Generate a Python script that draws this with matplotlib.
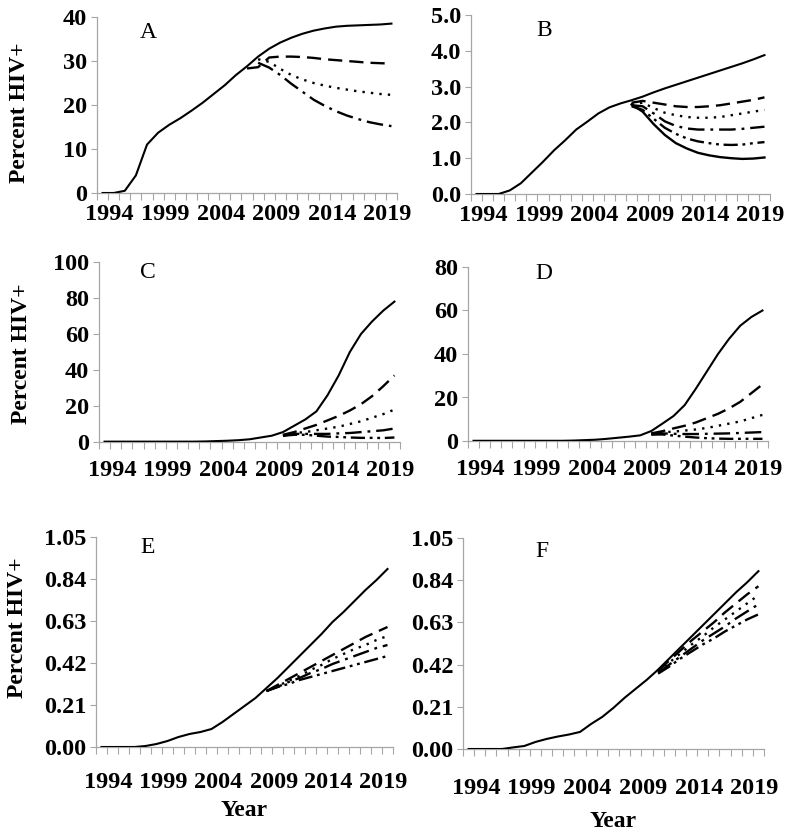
import matplotlib
matplotlib.use("Agg")
import matplotlib.pyplot as plt
from matplotlib.ticker import FixedLocator, NullFormatter

# ---------------- data ----------------
years = list(range(1993, 2020))
tick_years = [1994, 1999, 2004, 2009, 2014, 2019]

# Panel A
A_base = [0, 0, 0.5, 4, 11, 13.7, 15.5, 17, 18.7, 20.5, 22.5, 24.5, 26.8, 28.8,
          31, 32.8, 34.2, 35.3, 36.2, 36.9, 37.4, 37.8, 38, 38.1, 38.2, 38.3, 38.5]
A_dash_start = 2006
A_dash = [28.3, 28.6, 30.8, 31.0, 31.0, 30.9, 30.7, 30.4, 30.2, 30.0, 29.8, 29.6, 29.5, 29.4]
A_dot_start = 2007
A_dot = [30.4, 29.8, 28.2, 26.8, 25.8, 25.0, 24.4, 23.9, 23.5, 23.1, 22.8, 22.5, 22.3]
A_dashdot_start = 2007
A_dashdot = [29.6, 28.5, 26.8, 24.8, 23.0, 21.2, 19.8, 18.6, 17.6, 16.8, 16.1, 15.6, 15.2]

# Panel B
B_base = [0, 0, 0, 0.1, 0.3, 0.6, 0.9, 1.22, 1.5, 1.8, 2.02, 2.25, 2.42, 2.53,
          2.62, 2.72, 2.84, 2.95, 3.05, 3.15, 3.25, 3.35, 3.45, 3.55, 3.65, 3.76, 3.88]
B_start = 2007
B_dash = [2.55, 2.6, 2.55, 2.5, 2.45, 2.43, 2.43, 2.45, 2.48, 2.53, 2.58, 2.63, 2.7]
B_dot = [2.5, 2.55, 2.4, 2.27, 2.2, 2.15, 2.13, 2.13, 2.15, 2.2, 2.25, 2.3, 2.35]
B_dashdot = [2.48, 2.45, 2.25, 2.03, 1.9, 1.83, 1.8, 1.8, 1.8, 1.8, 1.82, 1.85, 1.88]
B_dashdotdot = [2.45, 2.35, 2.1, 1.85, 1.68, 1.55, 1.47, 1.42, 1.38, 1.37, 1.38, 1.42, 1.45]
B_low = [2.5, 2.3, 1.95, 1.65, 1.42, 1.27, 1.15, 1.08, 1.03, 1.0, 0.98, 0.99, 1.02]

# Panel C
C_base = [0.2, 0.2, 0.2, 0.2, 0.2, 0.2, 0.2, 0.2, 0.2, 0.3, 0.5, 0.7, 1.0, 1.5,
          2.5, 3.5, 5.5, 9, 12.5, 17, 26, 37, 50, 60, 67, 73, 78]
C_start = 2009
C_dash = [4, 5.5, 7.5, 9.5, 12, 14.5, 17.5, 21, 25.5, 31, 37]
C_dot = [3.5, 5, 5.5, 6.5, 7.5, 8.5, 10, 11.5, 13.5, 15.5, 18]
C_dashdot = [3.5, 4.5, 4.5, 4.5, 4.5, 4.8, 5, 5.5, 6, 6.5, 7.5]
C_dashdotdot = [3.5, 4, 4, 3.5, 3, 2.8, 2.5, 2.3, 2.3, 2.2, 2.5]

# Panel D
D_base = [0.1, 0.1, 0.1, 0.1, 0.1, 0.1, 0.1, 0.1, 0.1, 0.2, 0.4, 0.6, 1.0, 1.5,
          2.0, 2.6, 4.6, 8, 11.5, 16.5, 24, 32, 40, 47, 53, 57, 60]
D_start = 2009
D_dash = [3.5, 4.5, 5.8, 7, 8.5, 10.5, 12.5, 15, 18, 22, 26]
D_dot = [3.5, 4, 4.3, 4.8, 5.3, 6, 7, 8, 9, 10.5, 12]
D_dashdot = [3, 3.5, 3.3, 3.2, 3.2, 3.3, 3.4, 3.5, 3.7, 3.9, 4.1]
D_dashdotdot = [3, 3, 2.5, 2, 1.6, 1.3, 1.1, 1.0, 1.0, 1.0, 1.0]

# Panel E
E_base = [0, 0, 0, 0, 0.005, 0.015, 0.03, 0.05, 0.065, 0.075, 0.09, 0.125, 0.165, 0.205,
          0.245, 0.295, 0.345, 0.4, 0.455, 0.51, 0.565, 0.625, 0.675, 0.73, 0.785, 0.835, 0.89]
E_start = 2008
E_dash = [0.28, 0.31, 0.34, 0.37, 0.4, 0.43, 0.46, 0.49, 0.52, 0.55, 0.575, 0.6]
E_dot = [0.28, 0.305, 0.33, 0.355, 0.385, 0.41, 0.44, 0.465, 0.49, 0.51, 0.535, 0.555]
E_dashdot = [0.28, 0.3, 0.325, 0.345, 0.37, 0.39, 0.415, 0.435, 0.455, 0.475, 0.495, 0.51]
E_dashdotdot = [0.28, 0.3, 0.315, 0.335, 0.35, 0.365, 0.38, 0.395, 0.41, 0.425, 0.44, 0.455]

# Panel F
F_base = [0, 0, 0, 0, 0.008, 0.015, 0.035, 0.05, 0.062, 0.072, 0.085, 0.125, 0.16, 0.205,
          0.255, 0.3, 0.345, 0.395, 0.45, 0.505, 0.56, 0.615, 0.67, 0.725, 0.78, 0.83, 0.885]
F_start = 2010
F_dash = [0.39, 0.44, 0.49, 0.54, 0.585, 0.63, 0.68, 0.725, 0.77, 0.81]
F_dot = [0.385, 0.43, 0.475, 0.52, 0.56, 0.605, 0.645, 0.685, 0.725, 0.765]
F_dashdot = [0.38, 0.42, 0.46, 0.5, 0.54, 0.575, 0.61, 0.65, 0.685, 0.72]
F_dashdotdot = [0.375, 0.41, 0.45, 0.485, 0.52, 0.55, 0.585, 0.615, 0.645, 0.67]

# ---------------- styles ----------------
SOLID = '-'
DASH = (0, (6, 3))
DOT = (0, (1, 2.6))
DASHDOT = (0, (7, 2.5, 1.2, 2.5))
DASHDOTDOT = (0, (6, 2, 1.2, 2, 1.2, 2))

FONT = 'Liberation Serif'
AX_COLOR = '#a6a6a6'
TICK_FS = 17.5

fig = plt.figure(figsize=(8.0, 8.38), dpi=100)

def pos(l, r, t, b):
    W, H = 800.0, 838.0
    return [l / W, 1 - b / H, (r - l) / W, (b - t) / H]

panels = [
    dict(rect=pos(97, 397, 17, 193), letter='A', lpos=(0.17, 0.91), ymax=40, yticks=[0, 10, 20, 30, 40], fmt='{:.0f}',
         base=A_base, series=[(A_dash_start, A_dash, DASH), (A_dot_start, A_dot, DOT), (A_dashdot_start, A_dashdot, DASHDOT)],
         ylabel=(-0.257, 0.455), xlabel=None, pad=8),
    dict(rect=pos(471, 770, 15, 194), letter='B', lpos=(0.245, 0.915), ymax=5, yticks=[0, 1, 2, 3, 4, 5], fmt='{:.1f}',
         base=B_base, series=[(B_start, B_dash, DASH), (B_start, B_dot, DOT), (B_start, B_dashdot, DASHDOT),
                              (B_start, B_dashdotdot, DASHDOTDOT), (B_start, B_low, SOLID)],
         ylabel=None, xlabel=None, pad=8),
    dict(rect=pos(99, 400, 262, 442), letter='C', lpos=(0.163, 0.94), ymax=100, yticks=[0, 20, 40, 60, 80, 100], fmt='{:.0f}',
         base=C_base, series=[(C_start, C_dash, DASH), (C_start, C_dot, DOT), (C_start, C_dashdot, DASHDOT),
                              (C_start, C_dashdotdot, DASHDOTDOT)],
         ylabel=(-0.259, 0.49), xlabel=None, pad=13),
    dict(rect=pos(468, 768, 267, 441), letter='D', lpos=(0.253, 0.96), ymax=80, yticks=[0, 20, 40, 60, 80], fmt='{:.0f}',
         base=D_base, series=[(D_start, D_dash, DASH), (D_start, D_dot, DOT), (D_start, D_dashdot, DASHDOT),
                              (D_start, D_dashdotdot, DASHDOTDOT)],
         ylabel=None, xlabel=None, pad=13),
    dict(rect=pos(96, 393, 537, 747), letter='E', lpos=(0.175, 0.952), ymax=1.05,
         yticks=[0, 0.21, 0.42, 0.63, 0.84, 1.05], fmt='{:.2f}',
         base=E_base, series=[(E_start, E_dash, DASH), (E_start, E_dot, DOT), (E_start, E_dashdot, DASHDOT),
                              (E_start, E_dashdotdot, DASHDOTDOT)],
         ylabel=(-0.263, 0.567), xlabel=810, pad=18),
    dict(rect=pos(463, 764, 538, 749), letter='F', lpos=(0.262, 0.934), ymax=1.05,
         yticks=[0, 0.21, 0.42, 0.63, 0.84, 1.05], fmt='{:.2f}',
         base=F_base, series=[(F_start, F_dash, DASH), (F_start, F_dot, DOT), (F_start, F_dashdot, DASHDOT),
                              (F_start, F_dashdotdot, DASHDOTDOT)],
         ylabel=None, xlabel=821, pad=21),
]

for p in panels:
    ax = fig.add_axes(p['rect'])
    ax.plot(years, p['base'], color='black', lw=1.5, linestyle=SOLID, zorder=3)
    for start, vals, ls in p['series']:
        i0 = years.index(start)
        xs = years[i0:i0 + len(vals)]
        ax.plot(xs, vals, color='black', lw=1.7, linestyle=ls, dash_capstyle='butt', zorder=3)
    ax.set_xlim(years[0] - 0.5, years[-1] + 0.5)
    ax.set_ylim(0, p['ymax'])
    for s in ['top', 'right']:
        ax.spines[s].set_visible(False)
    for s in ['left', 'bottom']:
        ax.spines[s].set_color(AX_COLOR)
        ax.spines[s].set_linewidth(0.9)
    # x axis: category boundary ticks, labels every 5 years
    ax.xaxis.set_minor_locator(FixedLocator([y - 0.5 for y in years] + [years[-1] + 0.5]))
    ax.xaxis.set_minor_formatter(NullFormatter())
    ax.set_xticks([y - 0.35 for y in tick_years])
    ax.set_xticklabels([str(y) for y in tick_years])
    ax.tick_params(axis='x', which='minor', length=5, width=0.8, color=AX_COLOR, direction='out')
    ax.tick_params(axis='x', which='major', length=0, pad=p['pad'])
    ax.set_yticks(p['yticks'])
    ax.set_yticklabels([p['fmt'].format(v) for v in p['yticks']])
    ax.tick_params(axis='y', length=4, width=0.8, color=AX_COLOR, direction='out', pad=3)
    for lab in ax.get_xticklabels() + ax.get_yticklabels():
        lab.set_fontfamily(FONT)
        lab.set_fontweight('bold')
        lab.set_fontsize(TICK_FS)
    ax.text(p['lpos'][0], p['lpos'][1], p['letter'], transform=ax.transAxes, ha='center', va='center',
            fontfamily=FONT, fontsize=17)
    if p['ylabel'] is not None:
        ax.set_ylabel('Percent HIV+', fontfamily=FONT, fontweight='bold', fontsize=17)
        ax.yaxis.set_label_coords(p['ylabel'][0], p['ylabel'][1])
        ax.yaxis.label.set_va('center')
    if p['xlabel'] is not None:
        ax.set_xlabel('Year', fontfamily=FONT, fontweight='bold', fontsize=17)
        bbox = p['rect']
        yfrac = ((1 - p['xlabel'] / 838.0) - bbox[1]) / bbox[3]
        ax.xaxis.set_label_coords(0.5, yfrac)
        ax.xaxis.label.set_va('center')

fig.savefig('out.png', dpi=100)
